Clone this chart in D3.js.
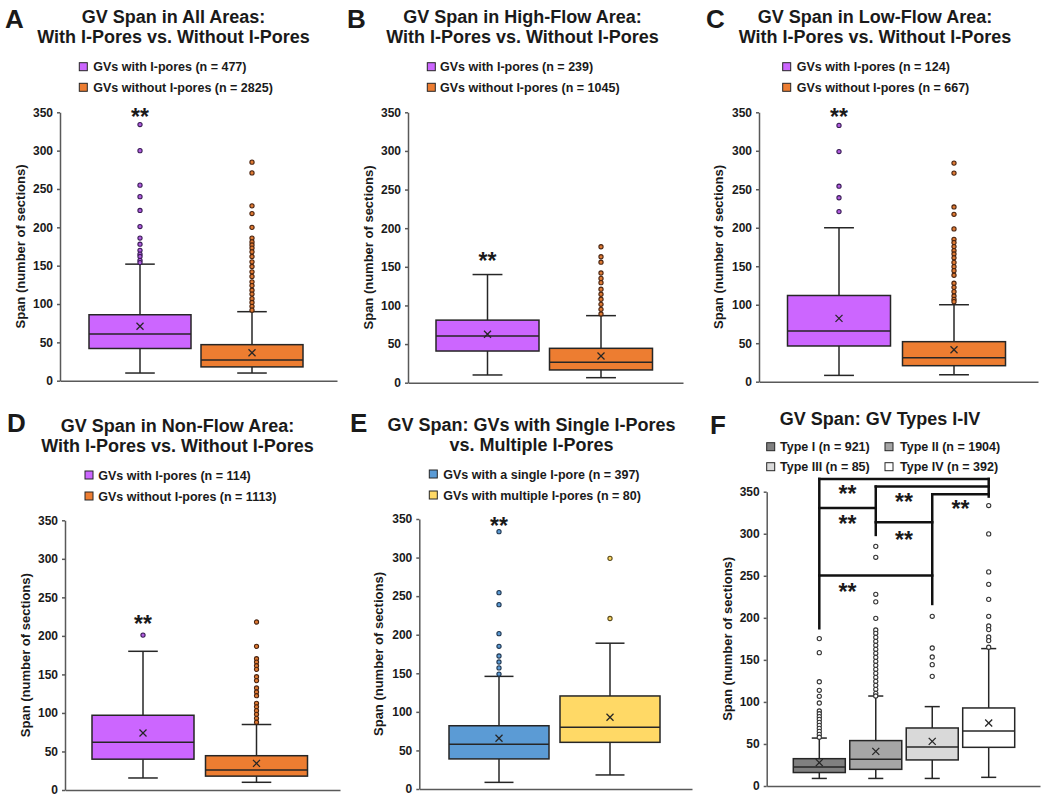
<!DOCTYPE html>
<html><head><meta charset="utf-8">
<script src="https://cdn.jsdelivr.net/npm/d3@7"></script>
<style>
body{margin:0;background:#fff;}
text{font-family:"Liberation Sans",Arial,sans-serif;font-weight:bold;fill:#1a1a1a;}
</style></head><body>
<script>
// ---------------- DATA ----------------
const yTicks = [0, 50, 100, 150, 200, 250, 300, 350];

// stats per box: [whiskerLow, q1, median, q3, mean, whiskerHigh]
const titleA = ["GV Span in All Areas:", "With I-Pores vs. Without I-Pores"];
const legendA = ["GVs with I-pores (n = 477)", "GVs without I-pores (n = 2825)"];
const statsA = [[10, 42, 61, 86, 71, 152], [10, 18, 27, 47, 36.5, 90]];
const outliersA = [
  [334, 300, 255, 240, 222, 201, 186, 178, 170, 165, 162, 157, 154],
  [285, 271, 228, 218, 200, 186, 181, 177, 173, 168, 162, 155, 149, 142, 136, 129, 124, 118, 113, 107, 102, 97, 92]
];
const sigA = [[0, 351]];

const titleB = ["GV Span in High-Flow Area:", "With I-Pores vs. Without I-Pores"];
const legendB = ["GVs with I-pores (n = 239)", "GVs without I-pores (n = 1045)"];
const statsB = [[10, 41, 60.5, 81, 62.7, 140], [6.5, 16.5, 26.4, 44.5, 34.6, 86.8]];
const outliersB = [
  [],
  [176, 163, 156, 142, 135, 129.5, 121, 114.5, 108, 101.5, 95, 89]
];
const sigB = [[0, 164]];

const titleC = ["GV Span in Low-Flow Area:", "With I-Pores vs. Without I-Pores"];
const legendC = ["GVs with I-pores (n = 124)", "GVs without I-pores (n = 667)"];
const statsC = [[8.2, 46.4, 66, 112, 82.3, 200], [9, 20.8, 31.2, 52, 41.6, 100]];
const outliersC = [
  [333, 299, 254, 239, 221],
  [284, 271, 227, 217.5, 198.5, 185, 180.7, 175.5, 170.3, 166, 161, 155, 149.5, 144.3, 138.3, 128, 122.6, 117, 111.4, 107, 104]
];
const sigC = [[0, 350]];

const titleD = ["GV Span in Non-Flow Area:", "With I-Pores vs. Without I-Pores"];
const legendD = ["GVs with I-pores (n = 114)", "GVs without I-pores (n = 1113)"];
const statsD = [[15.6, 40, 62, 97, 74, 180], [10, 18, 26, 44.5, 34.6, 85]];
const outliersD = [
  [201],
  [218, 186.4, 170.4, 166, 161.3, 156.6, 147, 142, 132.4, 127.2, 122.4, 112.5, 108, 103, 98.2, 93, 88]
];
const sigD = [[0, 222]];

const titleE = ["GV Span: GVs with Single I-Pores", "vs. Multiple I-Pores"];
const legendE = ["GVs with a single I-pore (n = 397)", "GVs with multiple I-pores (n = 80)"];
const statsE = [[8.6, 39, 58, 82, 65.7, 146], [18.2, 60.5, 80, 120.6, 92.9, 189]];
const outliersE = [
  [333.6, 254.5, 239, 201.4, 185, 172.4, 164.6, 157, 149],
  [299, 221]
];
const sigE = [[0, 348]];

const titleF = ["GV Span: GV Types I-IV"];
const legendF = ["Type I (n = 921)", "Type II (n = 1904)", "Type III (n = 85)", "Type IV (n = 392)"];
const statsF = [
  [9, 16, 22.6, 32.5, 27.8, 57],
  [9, 19.8, 31.7, 54, 41.2, 107],
  [9, 31, 46.4, 69, 53.1, 94.4],
  [10.3, 46, 65.4, 92.8, 74.9, 163.4]
];
const outliersF = [
  [175.3, 158.6, 124, 113.8, 106.7, 98.7, 89.2, 86, 82.5, 79.3, 75.7, 72.2, 68.6, 65, 61.5, 58],
  [285, 272, 228, 219, 199.4, 185.6, 181.6, 176.8, 172.1, 167.3, 162.6, 157.8, 153, 148.3, 143.5, 138.8, 134, 129.3, 124.5, 119.7, 115, 110.2, 107.1],
  [201.8, 164.1, 153.4, 144.3, 130.4],
  [333.5, 299.8, 254.6, 239.9, 222, 201.8, 190.3, 186, 177.2, 172.9, 165]
];
// brackets: [fromBox, toBox, value]
const bracketsF = [[0, 3, 365.2], [1, 3, 356.1], [2, 3, 347], [0, 1, 330.7], [1, 2, 313.7], [0, 2, 250.2]];
// lower ends of the vertical bracket drops, per box
const dropsF = [187.6, 298.6, 216.5, 344.2];
// significance stars: [leftBox (placed between leftBox and leftBox+1), value]
const sigF = [[0, 352.9], [0, 317.2], [1, 344.2], [1, 298.6], [2, 335.8], [0, 237.1]];

// ---------------- STYLE / LAYOUT ----------------
const PURPLE = {fill: "#CC66FF", ofill: "#B25BE0", ostroke: "#3a1d57"};
const ORANGE = {fill: "#ED7D31", ofill: "#E07A32", ostroke: "#4a2410"};
const BLUE = {fill: "#5B9BD5", ofill: "#5B9BD5", ostroke: "#1f3650"};
const YELLOW = {fill: "#FFD966", ofill: "#FFD966", ostroke: "#5a4a1a"};
const G1 = {fill: "#808080", ofill: "#fff", ostroke: "#333"};
const G2 = {fill: "#A6A6A6", ofill: "#fff", ostroke: "#333"};
const G3 = {fill: "#D9D9D9", ofill: "#fff", ostroke: "#333"};
const G4 = {fill: "#FFFFFF", ofill: "#fff", ostroke: "#333"};

const svg = d3.select("body").append("svg").attr("width", 1050).attr("height", 800);

function drawPanel(p) {
  const g = svg.append("g");
  const y = d3.scaleLinear().domain([0, 350]).range([p.yBot, p.yTop]);
  const idx = d3.range(p.stats.length);
  const x = d3.scalePoint().domain(idx).range([p.c1, p.c2]);
  const bw = p.boxW, cap = bw * 0.29;

  // letter
  g.append("text").attr("x", p.letterX).attr("y", p.letterY).style("font-size", "26px").text(p.letter);
  // title
  p.title.forEach((t, i) => {
    g.append("text").attr("x", p.titleX).attr("y", p.titleY + i * 20).attr("text-anchor", "middle")
      .style("font-size", "18px").text(t);
  });
  // legend
  p.legend.forEach((t, i) => {
    const pos = p.legendPos[i];
    g.append("rect").attr("x", pos[0]).attr("y", pos[1] - 4).attr("width", 8).attr("height", 8)
      .attr("fill", p.colors[i].fill).attr("stroke", "#262626").attr("stroke-width", 1);
    g.append("text").attr("x", pos[2]).attr("y", pos[1] + 4.5).style("font-size", "12.5px").text(t);
  });

  // axes
  const ax = g.append("g").attr("transform", `translate(${p.axisX},0)`)
    .call(d3.axisLeft(y).tickValues(yTicks).tickSize(3).tickSizeOuter(0).tickPadding(4));
  ax.select(".domain").attr("stroke", "#595959").attr("stroke-width", 1.5);
  ax.selectAll(".tick line").attr("stroke", "#595959").attr("stroke-width", 1.5);
  ax.selectAll(".tick text").style("font-size", "12px").style("font-family", "Liberation Sans, Arial, sans-serif")
    .style("font-weight", "bold").attr("fill", "#1a1a1a");
  const xl = d3.scaleLinear().range([p.axisX, p.axisRight]);
  const bx = g.append("g").attr("transform", `translate(0,${y(0)})`)
    .call(d3.axisBottom(xl).tickValues([]).tickSizeOuter(0));
  bx.select(".domain").attr("stroke", "#595959").attr("stroke-width", 1.5);

  // y label
  g.append("text").attr("transform", `translate(${p.ylabX},${(p.yTop + p.yBot) / 2}) rotate(-90)`)
    .attr("text-anchor", "middle").attr("dy", "0.35em").style("font-size", "13px")
    .text("Span (number of sections)");

  // boxes
  idx.forEach(i => {
    const s = p.stats[i], cx = x(i), c = p.colors[i];
    const bg = g.append("g");
    const line = (x1, y1, x2, y2, w) => bg.append("line").attr("x1", x1).attr("y1", y1).attr("x2", x2).attr("y2", y2)
      .attr("stroke", "#262626").attr("stroke-width", w || 1.5);
    line(cx, y(s[3]), cx, y(s[5]));
    line(cx, y(s[1]), cx, y(s[0]));
    line(cx - cap / 2, y(s[5]), cx + cap / 2, y(s[5]));
    line(cx - cap / 2, y(s[0]), cx + cap / 2, y(s[0]));
    bg.append("rect").attr("x", cx - bw / 2).attr("y", y(s[3])).attr("width", bw).attr("height", y(s[1]) - y(s[3]))
      .attr("fill", c.fill).attr("stroke", "#262626").attr("stroke-width", 1.5);
    line(cx - bw / 2, y(s[2]), cx + bw / 2, y(s[2]));
    const m = 3.5, my = y(s[4]);
    line(cx - m, my - m, cx + m, my + m, 1.3);
    line(cx - m, my + m, cx + m, my - m, 1.3);
    bg.selectAll("circle").data(p.outliers[i]).join("circle")
      .attr("cx", cx).attr("cy", d => y(d)).attr("r", 2.1)
      .attr("fill", c.ofill).attr("stroke", c.ostroke).attr("stroke-width", 1.1);
  });

  // brackets
  if (p.brackets) {
    const bl = (x1, y1, x2, y2) => g.append("line").attr("x1", x1).attr("y1", y1).attr("x2", x2).attr("y2", y2)
      .attr("stroke", "#111").attr("stroke-width", 2.5).attr("stroke-linecap", "square");
    p.brackets.forEach(b => bl(x(b[0]), y(b[2]), x(b[1]), y(b[2])));
    p.drops.forEach((d, i) => {
      const top = d3.max(p.brackets.filter(b => b[0] === i || b[1] === i), b => b[2]);
      bl(x(i), y(top), x(i), y(d));
    });
  }
  // stars
  p.sig.forEach(sg => {
    const sx = p.brackets ? (x(sg[0]) + x(sg[0] + 1)) / 2 : x(sg[0]);
    g.append("text").attr("x", sx).attr("y", y(sg[1]) + 13).attr("text-anchor", "middle")
      .style("font-size", "23px").text("**");
  });
}

drawPanel({letter: "A", letterX: 5, letterY: 28, title: titleA, titleX: 173.5, titleY: 23.3,
  legend: legendA, legendPos: [[79.3, 66.7, 93.3], [79.3, 87.3, 93.3]], colors: [PURPLE, ORANGE],
  stats: statsA, outliers: outliersA, sig: sigA,
  axisX: 60, axisRight: 337, yTop: 112.3, yBot: 380.7, c1: 140, c2: 252, boxW: 102, ylabX: 20});
drawPanel({letter: "B", letterX: 347, letterY: 28, title: titleB, titleX: 522.5, titleY: 23.3,
  legend: legendB, legendPos: [[427.3, 66.7, 440], [427.3, 87.3, 440]], colors: [PURPLE, ORANGE],
  stats: statsB, outliers: outliersB, sig: sigB,
  axisX: 408, axisRight: 683, yTop: 112.3, yBot: 382.7, c1: 487.5, c2: 601, boxW: 103, ylabX: 368});
drawPanel({letter: "C", letterX: 706, letterY: 28, title: titleC, titleX: 875, titleY: 23.3,
  legend: legendC, legendPos: [[782.7, 66.7, 796.7], [782.7, 87.3, 796.7]], colors: [PURPLE, ORANGE],
  stats: statsC, outliers: outliersC, sig: sigC,
  axisX: 759, axisRight: 1038, yTop: 112.3, yBot: 381.7, c1: 839, c2: 954, boxW: 103, ylabX: 718});
drawPanel({letter: "D", letterX: 7, letterY: 432, title: titleD, titleX: 177.5, titleY: 431.7,
  legend: legendD, legendPos: [[85, 475, 98.3], [85, 496, 98.3]], colors: [PURPLE, ORANGE],
  stats: statsD, outliers: outliersD, sig: sigD,
  axisX: 65, axisRight: 340, yTop: 520.3, yBot: 790, c1: 143, c2: 256.5, boxW: 102, ylabX: 25});
drawPanel({letter: "E", letterX: 350, letterY: 432, title: titleE, titleX: 531.5, titleY: 430.7,
  legend: legendE, legendPos: [[429.3, 474, 443.3], [429.3, 495, 443.3]], colors: [BLUE, YELLOW],
  stats: statsE, outliers: outliersE, sig: sigE,
  axisX: 419.3, axisRight: 692, yTop: 519, yBot: 789, c1: 499, c2: 610, boxW: 100, ylabX: 378});
drawPanel({letter: "F", letterX: 710, letterY: 434, title: titleF, titleX: 880, titleY: 425,
  legend: legendF, legendPos: [[766.7, 446.7, 780], [885, 446.7, 900], [766.7, 466.7, 780], [885, 466.7, 900]],
  colors: [G1, G2, G3, G4],
  stats: statsF, outliers: outliersF, sig: sigF, brackets: bracketsF, drops: dropsF,
  axisX: 766.7, axisRight: 1040, yTop: 491.7, yBot: 786, c1: 819.3, c2: 988.7, boxW: 52, ylabX: 727});
</script>
</body></html>
